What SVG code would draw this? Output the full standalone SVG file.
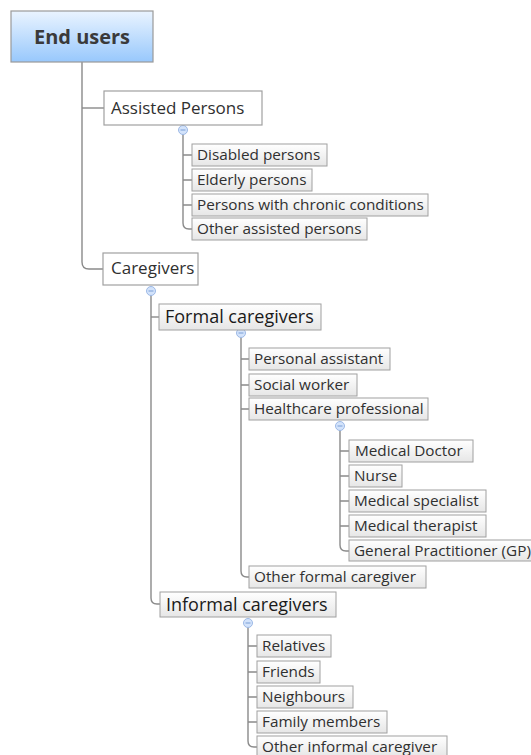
<svg xmlns="http://www.w3.org/2000/svg" width="531" height="755" viewBox="0 0 531 755">
<defs>
<linearGradient id="gRoot" x1="0" y1="0" x2="0" y2="1">
<stop offset="0" stop-color="#eaf4ff"/><stop offset="1" stop-color="#98c8fc"/>
</linearGradient>
<linearGradient id="gLeaf" x1="0" y1="0" x2="0" y2="1">
<stop offset="0" stop-color="#ffffff"/><stop offset="1" stop-color="#e6e6e6"/>
</linearGradient>
</defs>
<style>
.ln{fill:none;stroke:#8a8a8a;stroke-width:1.4}
.root{fill:url(#gRoot);stroke:#9a9a9a;stroke-width:1.2}
.mid{fill:#ffffff;stroke:#a0a0a0;stroke-width:1.2}
.leaf{fill:url(#gLeaf);stroke:#a0a0a0;stroke-width:1}
.t{font-family:"Open Sans","Noto Sans","DejaVu Sans",sans-serif;fill:#303030}
.tr{font-size:20px;font-weight:bold;text-anchor:middle;fill:#3a3a3a}
.tm{font-size:17px}
.tl{font-size:15.3px}
.tb{font-size:18px;fill:#1a1a1a}
.cc{fill:#d3e3fb;stroke:#9db9e6;stroke-width:1}
.cm{stroke:#7b9fd6;stroke-width:1}
</style>
<g id="connectors">
<path class="ln" d="M82 62 V262 Q82 269 89 269 H103"/>
<path class="ln" d="M82 108 H104"/>
<path class="ln" d="M183 134 V223 Q183 229 189 229 H192"/>
<path class="ln" d="M183 155 H192 M183 180 H192 M183 205 H192"/>
<path class="ln" d="M151 295 V598 Q151 604 157 604 H160"/>
<path class="ln" d="M151 317 H159"/>
<path class="ln" d="M241 337 V571 Q241 577 247 577 H249"/>
<path class="ln" d="M241 359 H249 M241 385 H249 M241 409 H249"/>
<path class="ln" d="M340 430 V545 Q340 551 346 551 H349"/>
<path class="ln" d="M340 451 H349 M340 476 H349 M340 501 H349 M340 526 H349"/>
<path class="ln" d="M248 627 V741 Q248 747 254 747 H257"/>
<path class="ln" d="M248 646 H257 M248 672 H257 M248 697 H257 M248 722 H257"/>
<ellipse class="cc" cx="183" cy="130" rx="4.5" ry="4.5"/><path class="cm" d="M180.5 130 H185.5"/>
<ellipse class="cc" cx="151" cy="291" rx="4.5" ry="4.5"/><path class="cm" d="M148.5 291 H153.5"/>
<ellipse class="cc" cx="241" cy="333" rx="4.5" ry="4.5"/><path class="cm" d="M238.5 333 H243.5"/>
<ellipse class="cc" cx="340" cy="426" rx="4.5" ry="4.5"/><path class="cm" d="M337.5 426 H342.5"/>
<ellipse class="cc" cx="248" cy="623" rx="4.5" ry="4.5"/><path class="cm" d="M245.5 623 H250.5"/>
</g>
<g id="end-users"><rect class="root" x="11" y="11" width="142" height="51"/><text class="t tr" x="82" y="44">End users</text></g>
<g id="assisted-persons"><rect class="mid" x="104" y="91" width="158" height="34"/><text class="t tm" x="111" y="114">Assisted Persons</text></g>
<g id="disabled-persons"><rect class="leaf" x="192" y="144" width="135" height="22"/><text class="t tl" x="197" y="159.5">Disabled persons</text></g>
<g id="elderly-persons"><rect class="leaf" x="192" y="169" width="120" height="22"/><text class="t tl" x="197" y="184.5">Elderly persons</text></g>
<g id="chronic-persons"><rect class="leaf" x="192" y="194" width="236" height="22"/><text class="t tl" x="197" y="209.5">Persons with chronic conditions</text></g>
<g id="other-assisted"><rect class="leaf" x="192" y="218" width="175" height="22"/><text class="t tl" x="197" y="233.5">Other assisted persons</text></g>
<g id="caregivers"><rect class="mid" x="103" y="253" width="95" height="32"/><text class="t tm" x="111" y="274">Caregivers</text></g>
<g id="formal-caregivers"><rect class="leaf" x="159" y="304" width="162" height="26"/><text class="t tb" x="165" y="323">Formal caregivers</text></g>
<g id="personal-assistant"><rect class="leaf" x="249" y="348" width="141" height="22"/><text class="t tl" x="254" y="363.5">Personal assistant</text></g>
<g id="social-worker"><rect class="leaf" x="249" y="374" width="108" height="22"/><text class="t tl" x="254" y="389.5">Social worker</text></g>
<g id="healthcare-professional"><rect class="leaf" x="249" y="398" width="179" height="22"/><text class="t tl" x="254" y="413.5">Healthcare professional</text></g>
<g id="medical-doctor"><rect class="leaf" x="349" y="440" width="124" height="22"/><text class="t tl" x="355" y="455.5">Medical Doctor</text></g>
<g id="nurse"><rect class="leaf" x="349" y="465" width="53" height="22"/><text class="t tl" x="354" y="480.5">Nurse</text></g>
<g id="medical-specialist"><rect class="leaf" x="349" y="490" width="137" height="22"/><text class="t tl" x="354" y="505.5">Medical specialist</text></g>
<g id="medical-therapist"><rect class="leaf" x="349" y="515" width="137" height="22"/><text class="t tl" x="354" y="530.5">Medical therapist</text></g>
<g id="general-practitioner"><rect class="leaf" x="349" y="540" width="190" height="21"/><text class="t tl" x="354" y="555.5">General Practitioner (GP)</text></g>
<g id="other-formal"><rect class="leaf" x="249" y="566" width="177" height="22"/><text class="t tl" x="254" y="581.5">Other formal caregiver</text></g>
<g id="informal-caregivers"><rect class="leaf" x="160" y="592" width="176" height="25"/><text class="t tb" x="166" y="610.5">Informal caregivers</text></g>
<g id="relatives"><rect class="leaf" x="257" y="635" width="74" height="22"/><text class="t tl" x="262" y="650.5">Relatives</text></g>
<g id="friends"><rect class="leaf" x="257" y="661" width="63" height="22"/><text class="t tl" x="262" y="676.5">Friends</text></g>
<g id="neighbours"><rect class="leaf" x="257" y="686" width="96" height="22"/><text class="t tl" x="262" y="701.5">Neighbours</text></g>
<g id="family-members"><rect class="leaf" x="257" y="711" width="130" height="22"/><text class="t tl" x="262" y="726.5">Family members</text></g>
<g id="other-informal"><rect class="leaf" x="257" y="736" width="190" height="21"/><text class="t tl" x="262" y="751.5">Other informal caregiver</text></g>
</svg>
